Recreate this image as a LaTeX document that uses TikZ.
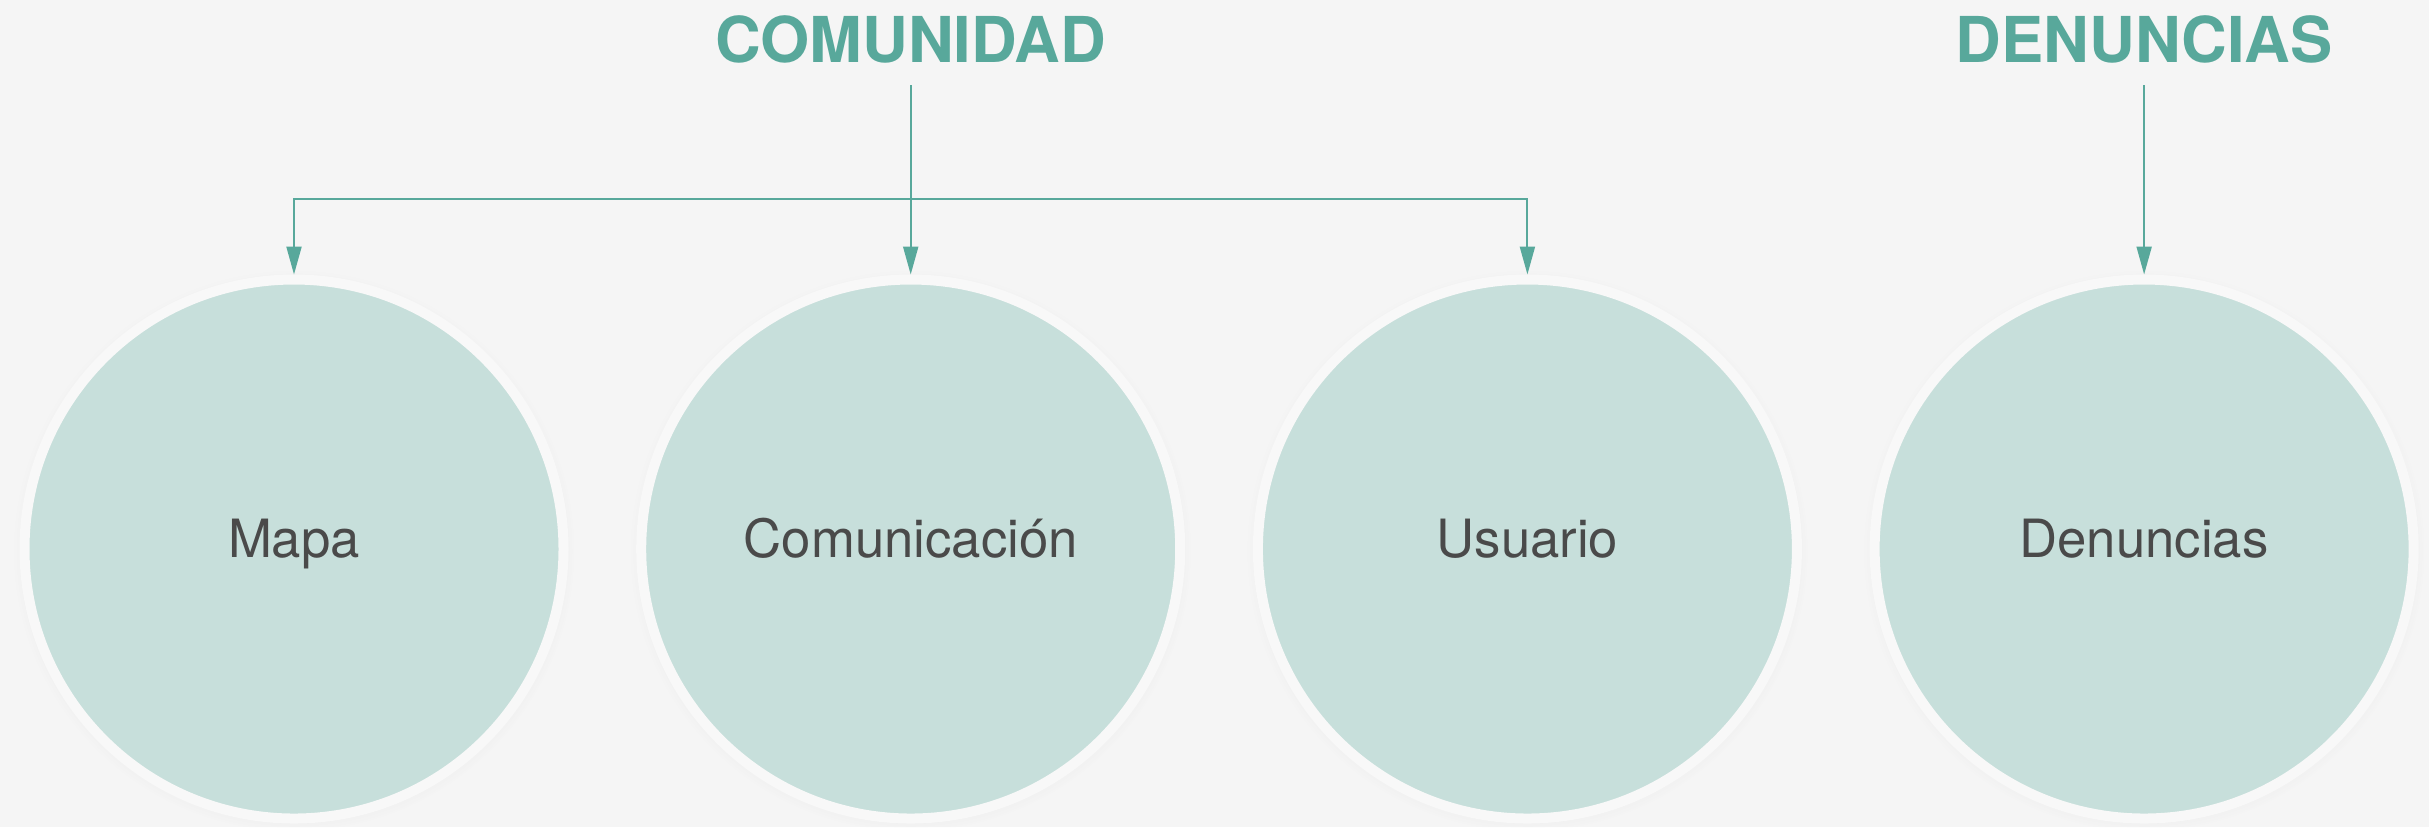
\documentclass[tikz,border=0pt]{standalone}
\usepackage{fontspec}
\setmainfont{TeX Gyre Heros}
\usetikzlibrary{arrows.meta,positioning,calc,shadows}

\definecolor{fondo}{HTML}{F5F5F5}
\definecolor{verde}{HTML}{58A89B}
\definecolor{relleno}{HTML}{C7DFDB}
\definecolor{anillo}{HTML}{F8F8F8}
\definecolor{letra}{HTML}{4A4A4A}

\tikzset{
	modulo/.style={circle, minimum size=5.39cm, line width=0.1cm, draw=anillo, fill=relleno,
		circular drop shadow={shadow xshift=0pt, shadow yshift=-0.5pt, shadow scale=1.04, opacity=0.12},
		text=letra, font=\fontsize{15}{18}\selectfont, text height=0.75em, text depth=0.25em},
	titulo/.style={text=verde, font=\bfseries\fontsize{18}{22}\selectfont, inner sep=0pt},
	flecha/.style={draw=verde, line width=0.6pt, -{Triangle[length=2.8mm, width=1.5mm]}}
}

\begin{document}
\begin{tikzpicture}
	%Definitions%
	%===========================================================
	\def \Ancho {24.29}; %Width of the picture in cm
	\def \Alto {8.27}; %Height of the picture in cm
	\def \Cy {-5.49}; %Height of the circle centres
	\def \Gap {0.677cm}; %Space between two circles
	\def \Tbase {-0.62}; %Baseline of the titles
	\def \Pie {-0.85}; %Start of the title arrows
	\def \Barra {-1.99}; %Height of the bracket
	%Background%
	%===========================================================
	\fill[fondo] (0,0) rectangle (\Ancho,-\Alto);
	\useasboundingbox (0,0) rectangle (\Ancho,-\Alto);
	%Circles%
	%===========================================================
	\node[modulo] (mapa) at (2.94,\Cy) {Mapa};
	\node[modulo, right=\Gap of mapa] (comunicacion) {Comunicación};
	\node[modulo, right=\Gap of comunicacion] (usuario) {Usuario};
	\node[modulo, right=\Gap of usuario] (denuncias) {Denuncias};
	%Titles%
	%===========================================================
	\node[titulo, anchor=base] (comunidad) at (comunicacion.north |- 0,\Tbase) {COMUNIDAD};
	\node[titulo, anchor=base] (denunciast) at (denuncias.north |- 0,\Tbase) {DENUNCIAS};
	\coordinate (comunidad-pie) at (comunidad.base |- 0,\Pie); %Foot of COMUNIDAD
	\coordinate (denuncias-pie) at (denunciast.base |- 0,\Pie); %Foot of DENUNCIAS
	\coordinate (barra) at (comunidad-pie |- 0,\Barra); %Middle of the bracket
	%Arrows%
	%===========================================================
	\draw[flecha] (comunidad-pie) -- (comunicacion.north);
	\draw[flecha] (barra) -| (mapa.north); %left branch
	\draw[flecha] (barra) -| (usuario.north); %right branch
	\draw[flecha] (denuncias-pie) -- (denuncias.north);
\end{tikzpicture}
\end{document}
